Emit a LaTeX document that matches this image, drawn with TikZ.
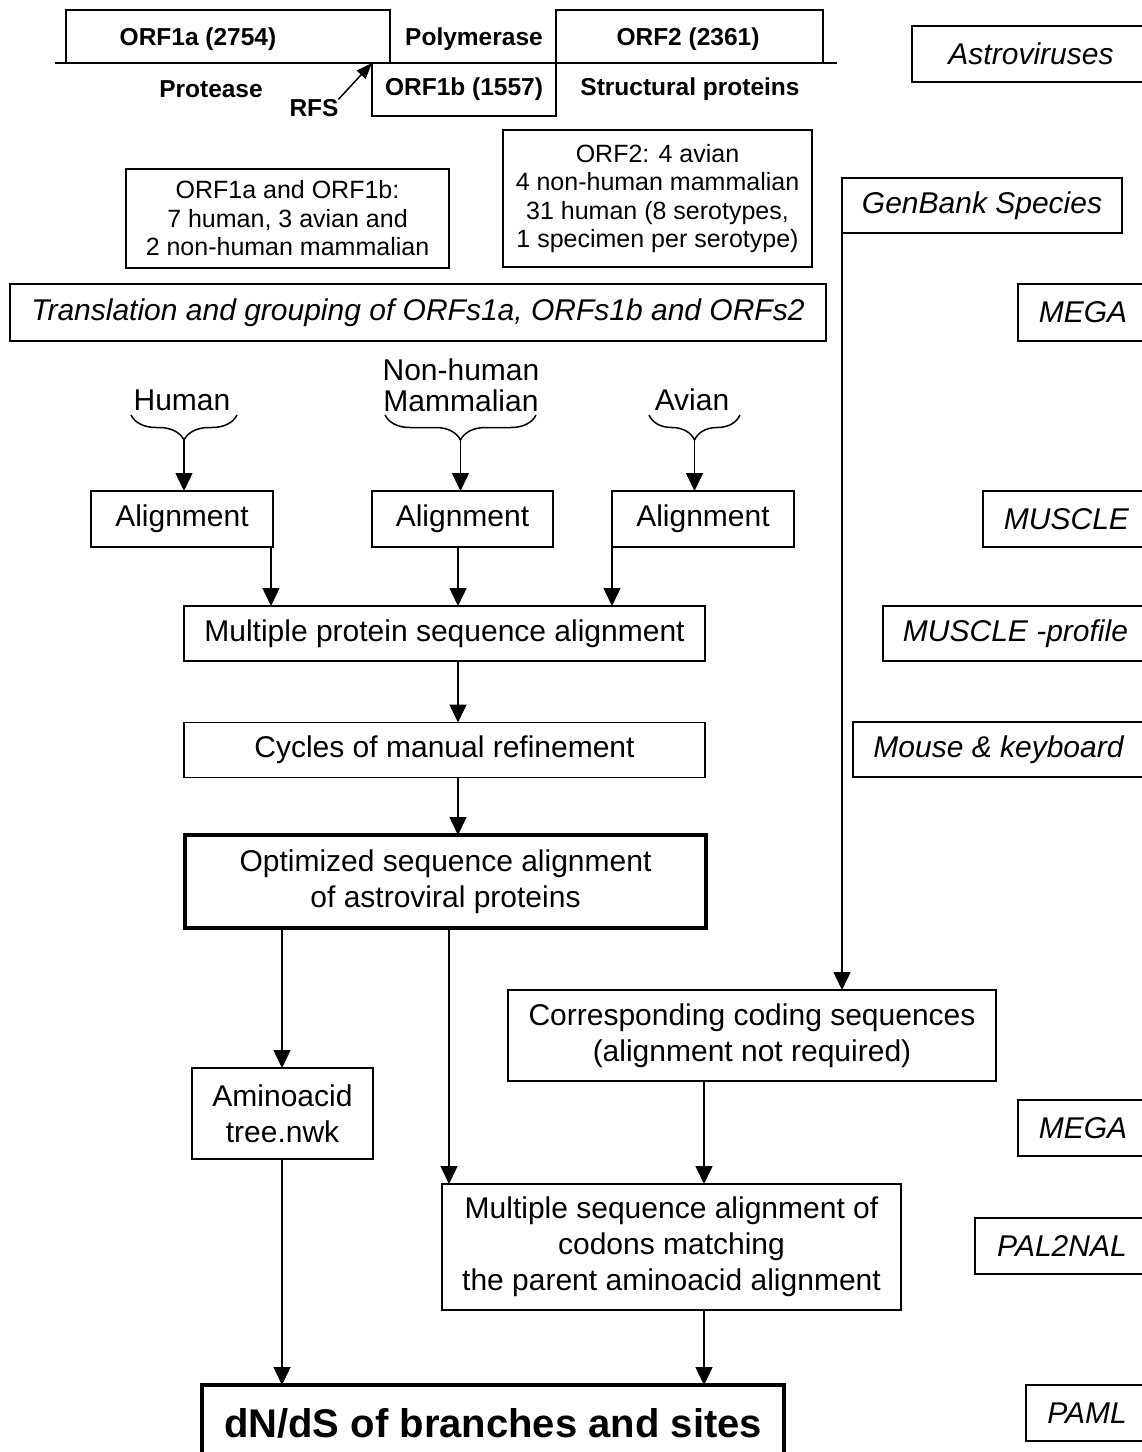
\documentclass[tikz,border=0pt]{standalone}
\usepackage{fontspec}
\setmainfont{Liberation Sans}
\usetikzlibrary{arrows.meta,decorations.pathreplacing}
\newcommand\fmain{\fontsize{30}{36}\selectfont}
\newcommand\fbrc{\fontsize{30}{31}\selectfont}
\newcommand\finfo{\fontsize{25}{28.5}\selectfont}
\newcommand\fbld{\fontsize{24.5}{28}\selectfont\bfseries}
\newcommand\fbig{\fontsize{40}{46}\selectfont\bfseries}
\begin{document}
\begin{tikzpicture}[x=1pt, y=-1pt,
  every node/.style={inner sep=0pt, outer sep=0pt},
  box/.style={draw, line width=1.5pt, align=center, font=\fmain},
  ibox/.style={box, font=\fmain\itshape},
  thickbox/.style={box, line width=3.5pt},
  infobox/.style={box, font=\finfo},
  lbl/.style={font=\fbld, align=center},
  gbox/.style={draw, line width=1.5pt},
  arr/.style={line width=1.5pt, -{Triangle[width=17pt,length=18pt]}},
  brc/.style={line width=1.5pt, decorate, decoration={brace, amplitude=25pt}},
  txt/.style={font=\fbrc, align=center}
]
\useasboundingbox (0,0) rectangle (1142,1452);

% ---------- genome map ----------
\node[gbox, minimum width=324pt, minimum height=53pt] (orf1a) at (228,36.5) {};
\node[gbox, minimum width=267pt, minimum height=53pt] (orf2) at (689.5,36.5) {};
\node[gbox, minimum width=184pt, minimum height=53pt] (orf1b) at (464,89.5) {};
\draw[line width=2.2pt] (55,63) coordinate (bl1) -- (837,63) coordinate (bl2);
\node[lbl] (orf1alab) at (198,39) {ORF1a (2754)};
\node[lbl] (poly) at (474,39) {Polymerase};
\node[lbl] (orf2lab) at (688,39) {ORF2 (2361)};
\node[lbl] (orf1blab) at (464,89) {ORF1b (1557)};
\node[lbl] (prot) at (211,89) {Protease};
\node[lbl] (struct) at (690,89) {Structural proteins};
\node[lbl] (rfs) at (314,108) {RFS};
\draw[line width=1.5pt, -{Triangle[width=12pt,length=16pt]}] (rfs.north east) -- (orf1b.north west);

% ---------- info boxes ----------
\node[infobox, minimum width=323pt, minimum height=99pt] (info1) at (287.5,218.5)
  {ORF1a and ORF1b:\\7 human, 3 avian and\\2 non-human mammalian};
\node[infobox, minimum width=309pt, minimum height=137pt] (info2) at (657.5,198.5)
  {ORF2: 4 avian\\4 non-human mammalian\\31 human (8 serotypes,\\1 specimen per serotype)};
\node[ibox, minimum width=816pt, minimum height=57pt] (trans) at (418,312.5)
  {Translation and grouping of ORFs1a, ORFs1b and ORFs2};

% ---------- right column tools ----------
\node[ibox, minimum width=238pt, minimum height=56pt] (astro) at (1031,54) {Astroviruses};
\node[ibox, minimum width=280pt, minimum height=55pt] (genbank) at (982,205.5) {GenBank Species};
\node[ibox, minimum width=130pt, minimum height=57pt] (mega1) at (1083,312.5) {MEGA};
\node[ibox, minimum width=167pt, minimum height=56pt] (muscle) at (1066.5,519) {MUSCLE};
\node[ibox, minimum width=265pt, minimum height=55pt] (mprof) at (1015.5,633.5) {MUSCLE -profile};
\node[ibox, minimum width=291pt, minimum height=55pt] (mouse) at (998.5,749.5) {Mouse \& keyboard};
\node[ibox, minimum width=130pt, minimum height=56pt] (mega2) at (1083,1128) {MEGA};
\node[ibox, minimum width=174pt, minimum height=56pt] (pal) at (1062,1246) {PAL2NAL};
\node[ibox, minimum width=122pt, minimum height=56pt] (paml) at (1087,1413) {PAML};

% ---------- groups ----------
\node[txt] (hum) at (182,400) {Human};
\node[txt] (nhm) at (461,385) {Non-human\\Mammalian};
\node[txt] (avi) at (692,400) {Avian};
\draw[brc] (237,415) coordinate (hbr) -- (131,415) coordinate (hbl);
\draw[brc] (536,415) coordinate (nbr) -- (385,415) coordinate (nbl);
\draw[brc] (740,415) coordinate (abr) -- (649,415) coordinate (abl);
\coordinate (htip) at (184,440);
\coordinate (ntip) at (460.5,440);
\coordinate (atip) at (694.5,440);

% ---------- main flow ----------
\node[box, minimum width=182pt, minimum height=56pt] (a1) at (182,519) {Alignment};
\node[box, minimum width=181pt, minimum height=56pt] (a2) at (462.5,519) {Alignment};
\node[box, minimum width=182pt, minimum height=56pt] (a3) at (703,519) {Alignment};
\node[box, minimum width=521pt, minimum height=55pt] (mult) at (444.5,633.5) {Multiple protein sequence alignment};
\node[box, minimum width=521pt, minimum height=55pt] (cyc) at (444.5,750) {Cycles of manual refinement};
\node[thickbox, minimum width=521pt, minimum height=93pt] (opt) at (445.5,881.5) {Optimized sequence alignment\\of astroviral proteins};
\node[box, minimum width=488pt, minimum height=91pt] (corr) at (752,1035.5) {Corresponding coding sequences\\(alignment not required)};
\node[box, minimum width=181pt, minimum height=91pt] (amino) at (282.5,1113.5) {Aminoacid\\tree.nwk};
\node[box, minimum width=459pt, minimum height=126pt] (msa) at (671.5,1247) {Multiple sequence alignment of\\codons matching\\the parent aminoacid alignment};
\node[thickbox, font=\fbig, minimum width=582pt, minimum height=76pt] (dnds) at (493,1423) {dN/dS of branches and sites};

% ---------- column coordinates ----------
\coordinate (x271) at (271,0);
\coordinate (x458) at (458,0);
\coordinate (x612) at (612,0);
\coordinate (x282) at (282,0);
\coordinate (x449) at (449,0);
\coordinate (x704) at (704,0);
\coordinate (x842) at (842,0);

% ---------- connectors ----------
\draw[arr] (htip) -- (htip |- a1.north);
\draw[arr] (ntip) -- (ntip |- a2.north);
\draw[arr] (atip) -- (atip |- a3.north);
\draw[arr] (x271 |- a1.south) -- (x271 |- mult.north);
\draw[arr] (x458 |- a2.south) -- (x458 |- mult.north);
\draw[arr] (x612 |- a3.south) -- (x612 |- mult.north);
\draw[arr] (x458 |- mult.south) -- (x458 |- cyc.north);
\draw[arr] (x458 |- cyc.south) -- (x458 |- opt.north);
\draw[arr] (x282 |- opt.south) -- (x282 |- amino.north);
\draw[arr] (x449 |- opt.south) -- (x449 |- msa.north);
\draw[arr] (x842 |- genbank.south) -- (x842 |- corr.north);
\draw[arr] (x704 |- corr.south) -- (x704 |- msa.north);
\draw[arr] (x282 |- amino.south) -- (x282 |- dnds.north);
\draw[arr] (x704 |- msa.south) -- (x704 |- dnds.north);
\end{tikzpicture}
\end{document}
